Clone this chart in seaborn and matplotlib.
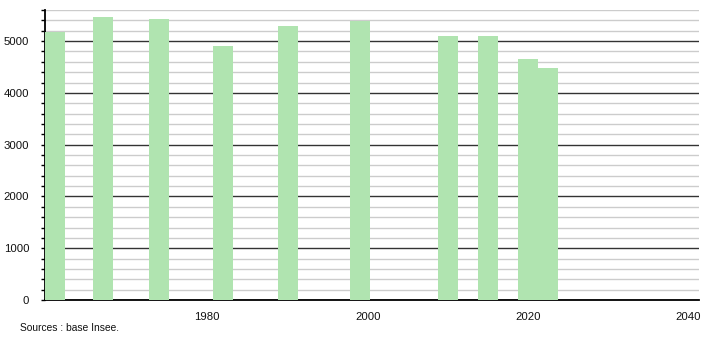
import matplotlib
matplotlib.use("Agg")
import matplotlib.pyplot as plt
import seaborn as sns
import pandas as pd
from matplotlib.ticker import MultipleLocator

years = [1961, 1967, 1974, 1982, 1990, 1999, 2010, 2015, 2020, 2022.5]
population = [5180, 5470, 5430, 4910, 5300, 5395, 5100, 5105, 4655, 4480]
x_ticks = [1980, 2000, 2020, 2040]
source_text = "Sources : base Insee."

sns.set_theme(style="white")
plt.rcParams['font.family'] = ['Liberation Sans', 'DejaVu Sans']
plt.rcParams['text.color'] = 'black'
plt.rcParams['xtick.color'] = 'black'
plt.rcParams['ytick.color'] = 'black'

df = pd.DataFrame({"year": years, "pop": population})

fig = plt.figure(figsize=(7.1, 3.4), dpi=100)
ax = fig.add_axes([44.5 / 710, 40 / 340, (699 - 44.5) / 710, 290 / 340])

sns.barplot(data=df, x="year", y="pop", native_scale=True, width=1.0,
            color="#b0e4b0", saturation=1, edgecolor="none", linewidth=0,
            ax=ax, zorder=3)

ax.set_xlim(1959.7, 2041.3)
ax.set_ylim(0, 5600)
ax.set_xticks(x_ticks)
ax.set_xticklabels([str(t) for t in x_ticks])
ax.yaxis.set_major_locator(MultipleLocator(1000))
ax.yaxis.set_minor_locator(MultipleLocator(200))

ax.grid(which="minor", axis="y", color="#cccccc", linewidth=1.0, zorder=0)
ax.grid(which="major", axis="y", color="#333333", linewidth=1.0, zorder=1)
ax.grid(which="both", axis="x", visible=False)
ax.set_axisbelow(True)

for s in ["top", "right"]:
    ax.spines[s].set_visible(False)
for s in ["left", "bottom"]:
    ax.spines[s].set_color("black")
    ax.spines[s].set_linewidth(1.3)

ax.tick_params(axis="y", which="both", left=True, length=3, width=1, color="black",
               labelsize=8.2, pad=8, labelcolor="#111111")
ax.tick_params(axis="x", which="both", bottom=False, labelsize=8.2, pad=3,
               labelcolor="#111111")
ax.set_xlabel("")
ax.set_ylabel("")

fig.text(20.5 / 710, 1 - 328 / 340, source_text, fontsize=7.4, va="center",
         ha="left", color="#111111")

fig.savefig("out.png", dpi=100)
